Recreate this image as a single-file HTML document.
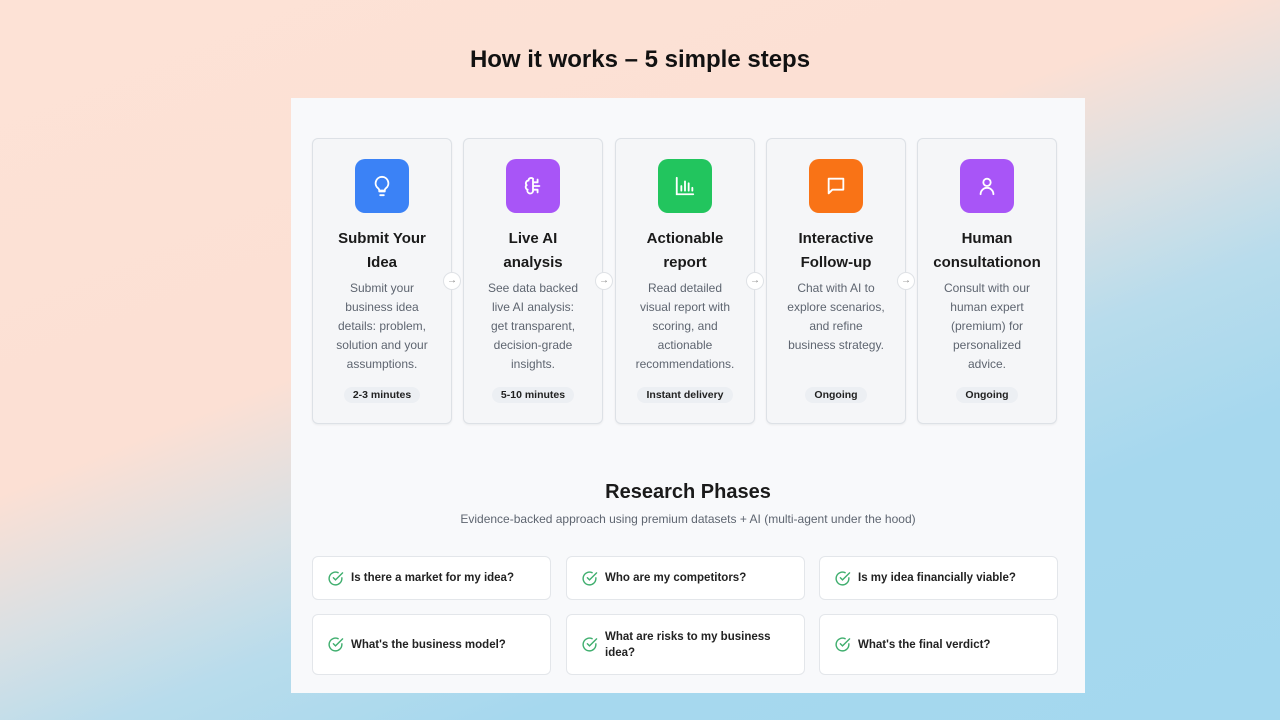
<!DOCTYPE html>
<html><head><meta charset="utf-8"><style>
*{margin:0;padding:0;box-sizing:border-box}
body{width:1280px;height:720px;overflow:hidden;position:relative;font-family:"Liberation Sans","DejaVu Sans",sans-serif;
background:linear-gradient(158deg,#fde2d6 0%,#fce0d4 40%,#d8e0e4 52%,#b8dcec 62%,#a6d8ee 75%,#a4d8ef 100%);}
h1{position:absolute;top:46px;left:0;width:1280px;text-align:center;font-size:24px;font-weight:bold;color:#111}
.panel{position:absolute;left:291px;top:98px;width:794px;height:595px;background:#f8f9fb}
.card{position:absolute;top:40px;width:140px;height:286px;border:1px solid #dde1e6;border-radius:6px;background:#f5f6f8;box-shadow:0 1px 2px rgba(0,0,0,.06);text-align:center}
.ic{width:54px;height:54px;border-radius:10px;margin:20px auto 0;display:flex;align-items:center;justify-content:center}
.t{margin-top:14px;font-size:15px;font-weight:bold;color:#1a1a1a;line-height:23.5px}
.d{margin-top:5px;font-size:12px;color:#5e6570;line-height:19px;padding:0 19px}
.b{position:absolute;left:0;right:0;top:246px;text-align:center}
.b span{display:inline-block;background:#eceff3;border-radius:9px;padding:2px 9px;font-size:10.5px;font-weight:bold;color:#222}
.ar{position:absolute;top:174px;width:18px;height:18px;border-radius:50%;background:#fff;border:1px solid #dfe2e6;font-size:10px;color:#888;text-align:center;line-height:16px}
h2{position:absolute;top:383px;left:0;width:794px;text-align:center;font-size:20px;font-weight:bold;color:#1a1a1a}
.sub{position:absolute;top:414px;left:0;width:794px;text-align:center;font-size:12px;color:#5e6570}
.q{position:absolute;width:239px;background:#fff;border:1px solid #e3e6ea;border-radius:6px;display:flex;align-items:center;padding-left:14px;font-size:11.5px;font-weight:bold;color:#222;line-height:16px}
.q svg{flex:none;margin-right:7px}
</style></head><body>
<h1>How it works – 5 simple steps</h1>
<div class="panel">
<div class="card" style="left:21px"><div class="ic" style="background:#3b82f6"><svg width="22" height="22" viewBox="0 0 24 24" fill="none" stroke="#fff" stroke-width="2" stroke-linecap="round"><path d="M9 18h6M10 22h4M12 2a7 7 0 0 0-4 12.7c.6.5 1 1.2 1 2.3h6c0-1.1.4-1.8 1-2.3A7 7 0 0 0 12 2z"/></svg></div><div class="t">Submit Your<br>Idea</div><div class="d">Submit your business idea details: problem, solution and your assumptions.</div><div class="b"><span>2-3 minutes</span></div></div>
<div class="card" style="left:172px"><div class="ic" style="background:#a855f7"><svg width="22" height="22" viewBox="0 0 24 24" fill="none" stroke="#fff" stroke-width="2" stroke-linecap="round"><path d="M12 4a3 3 0 0 0-5 2 3 3 0 0 0-2 5 3 3 0 0 0 1 5 3 3 0 0 0 6 2V4zM12 8h5M12 12h7M12 16h5M17 8V5M17 16v3"/></svg></div><div class="t">Live AI<br>analysis</div><div class="d">See data backed live AI analysis: get transparent, decision-grade insights.</div><div class="b"><span>5-10 minutes</span></div></div>
<div class="card" style="left:324px"><div class="ic" style="background:#22c55e"><svg width="22" height="22" viewBox="0 0 24 24" fill="none" stroke="#fff" stroke-width="2" stroke-linecap="round"><path d="M3 3v18h18M8 17v-5M12 17V7M16 17v-8M20 17v-3"/></svg></div><div class="t">Actionable<br>report</div><div class="d">Read detailed visual report with scoring, and actionable recommendations.</div><div class="b"><span>Instant delivery</span></div></div>
<div class="card" style="left:475px"><div class="ic" style="background:#f97316"><svg width="22" height="22" viewBox="0 0 24 24" fill="none" stroke="#fff" stroke-width="2" stroke-linejoin="round"><path d="M4 4h16v12H8l-4 4z"/></svg></div><div class="t">Interactive<br>Follow-up</div><div class="d">Chat with AI to explore scenarios, and refine business strategy.</div><div class="b"><span>Ongoing</span></div></div>
<div class="card" style="left:626px"><div class="ic" style="background:#a855f7"><svg width="22" height="22" viewBox="0 0 24 24" fill="none" stroke="#fff" stroke-width="2" stroke-linecap="round"><circle cx="12" cy="8" r="4"/><path d="M5 21a7 7 0 0 1 14 0"/></svg></div><div class="t">Human<br>consultationon</div><div class="d">Consult with our human expert (premium) for personalized advice.</div><div class="b"><span>Ongoing</span></div></div>
<div class="ar" style="left:152px">→</div><div class="ar" style="left:304px">→</div><div class="ar" style="left:455px">→</div><div class="ar" style="left:606px">→</div>
<h2>Research Phases</h2>
<div class="sub">Evidence-backed approach using premium datasets + AI (multi-agent under the hood)</div>
<div class="q" style="left:21px;top:458px;height:44px"><svg width="17" height="17" viewBox="0 0 24 24" fill="none" stroke="#3fae6e" stroke-width="2" stroke-linecap="round"><path d="M21 11.1V12a9 9 0 1 1-5.3-8.2"/><path d="M9 11l3 3L22 4"/></svg>Is there a market for my idea?</div>
<div class="q" style="left:275px;top:458px;height:44px"><svg width="17" height="17" viewBox="0 0 24 24" fill="none" stroke="#3fae6e" stroke-width="2" stroke-linecap="round"><path d="M21 11.1V12a9 9 0 1 1-5.3-8.2"/><path d="M9 11l3 3L22 4"/></svg>Who are my competitors?</div>
<div class="q" style="left:528px;top:458px;height:44px"><svg width="17" height="17" viewBox="0 0 24 24" fill="none" stroke="#3fae6e" stroke-width="2" stroke-linecap="round"><path d="M21 11.1V12a9 9 0 1 1-5.3-8.2"/><path d="M9 11l3 3L22 4"/></svg>Is my idea financially viable?</div>
<div class="q" style="left:21px;top:516px;height:61px"><svg width="17" height="17" viewBox="0 0 24 24" fill="none" stroke="#3fae6e" stroke-width="2" stroke-linecap="round"><path d="M21 11.1V12a9 9 0 1 1-5.3-8.2"/><path d="M9 11l3 3L22 4"/></svg>What's the business model?</div>
<div class="q" style="left:275px;top:516px;height:61px"><svg width="17" height="17" viewBox="0 0 24 24" fill="none" stroke="#3fae6e" stroke-width="2" stroke-linecap="round"><path d="M21 11.1V12a9 9 0 1 1-5.3-8.2"/><path d="M9 11l3 3L22 4"/></svg>What are risks to my business<br>idea?</div>
<div class="q" style="left:528px;top:516px;height:61px"><svg width="17" height="17" viewBox="0 0 24 24" fill="none" stroke="#3fae6e" stroke-width="2" stroke-linecap="round"><path d="M21 11.1V12a9 9 0 1 1-5.3-8.2"/><path d="M9 11l3 3L22 4"/></svg>What's the final verdict?</div>
</div>
</body></html>
